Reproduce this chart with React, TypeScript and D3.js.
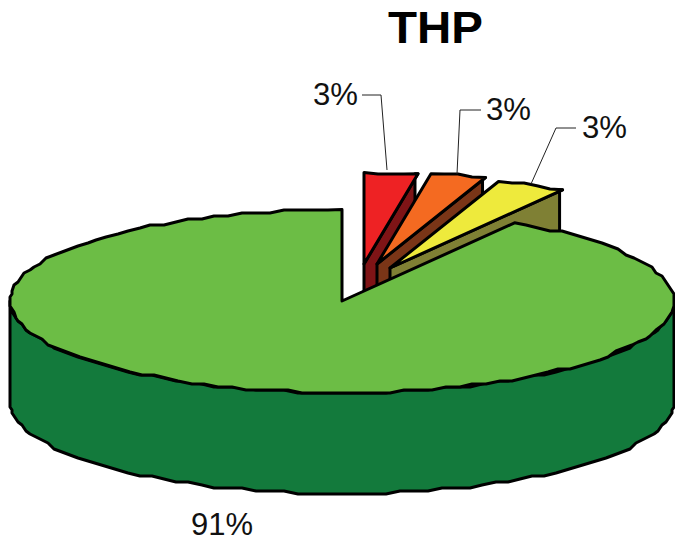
import React from "react";
import * as d3 from "d3";

const categories = ["A", "B", "C", "D"];
const shares = [2.6, 2.7, 3.4, 91.3];
const labels = ["3%", "3%", "3%", "91%"];
const topColors = ["#ee2224", "#f46a21", "#eeea3c", "#6cbd45"];
const wallColors = ["#7f1416", "#7a3517", "#7f8034", "#137a3c"];

const W = 675, H = 537;
const cx = 342, cy = 301, rx = 332, ry = 91.5, depth = 101;
const apexes: [number, number][] = [[364, 264], [377, 264], [390, 268], [cx, cy]];
const labelPos = [[313, 105], [486, 120], [582, 138], [191, 535]];
const leaders = [
  [[362, 95], [381, 95], [387, 170]],
  [[481, 110], [460, 110], [457, 174]],
  [[576, 128], [556, 128], [531, 184]],
];

const pie = d3.pie<number>().sort(null).value((d) => d).startAngle(0).endAngle(2 * Math.PI);
const arcs = pie(shares);
const line = d3.line<number[]>().x((d) => d[0]).y((d) => d[1]).curve(d3.curveLinear);

// the original's outline is a coarse polyline: sample the rim and snap it to a grid
const snap = (v: number, g: number) => Math.round(v / g) * g;
function rim(a0: number, a1: number, ox: number, oy: number, dy = 0) {
  const step = (2.5 * Math.PI) / 180;
  const n = Math.max(1, Math.round(Math.abs(a1 - a0) / step));
  return d3.range(n + 1).map((i) => {
    const a = a0 + ((a1 - a0) * i) / n;
    const x = ox + rx * Math.sin(a);
    const y = oy - ry * Math.cos(a);
    const edge = i === 0 || i === n;
    return edge ? [x, y + dy] : [snap(x, 2), snap(y, 3) + dy];
  });
}

export default function App() {
  const small = arcs.slice(0, 3);
  const big = arcs[3];
  return (
    <svg width={W} height={H} style={{ position: "absolute", left: 0, top: 0 }}>
      <rect width={W} height={H} fill="#fff" />
      <g stroke="#000" strokeWidth={3} strokeLinejoin="round">
        {small.map((s, i) => {
          const [ox, oy] = apexes[i];
          const r = rim(s.startAngle, s.endAngle, ox, oy);
          const end = r[r.length - 1];
          const wall = [[ox, oy], end, [end[0] - 3, end[1]], [end[0] - 3, end[1] + depth], [ox, oy + depth]];
          return (
            <g key={categories[i]}>
              <path d={line(wall) + "Z"} fill={wallColors[i]} />
              <path d={line([[ox, oy], ...r]) + "Z"} fill={topColors[i]} />
            </g>
          );
        })}
        <path
          d={line([...rim(Math.PI / 2, (3 * Math.PI) / 2, cx, cy), ...rim((3 * Math.PI) / 2, Math.PI / 2, cx, cy, depth)]) + "Z"}
          fill={wallColors[3]}
        />
        <path d={line([[cx, cy], ...rim(big.startAngle, big.endAngle, cx, cy)]) + "Z"} fill={topColors[3]} />
      </g>
      <g fill="none" stroke="#222" strokeWidth={1}>
        {leaders.map((l, i) => (
          <path key={i} d={line(l) ?? ""} />
        ))}
      </g>
      <g fontFamily="Liberation Sans" fontSize={32} fill="#111">
        {labels.map((t, i) => (
          <text key={i} x={labelPos[i][0]} y={labelPos[i][1]} textLength={i === 3 ? 62 : 45} lengthAdjust="spacingAndGlyphs">
            {t}
          </text>
        ))}
      </g>
      <text x={388} y={43} textLength={95} lengthAdjust="spacingAndGlyphs" fontFamily="Liberation Sans" fontWeight="bold" fontSize={44} fill="#000">
        THP
      </text>
    </svg>
  );
}
